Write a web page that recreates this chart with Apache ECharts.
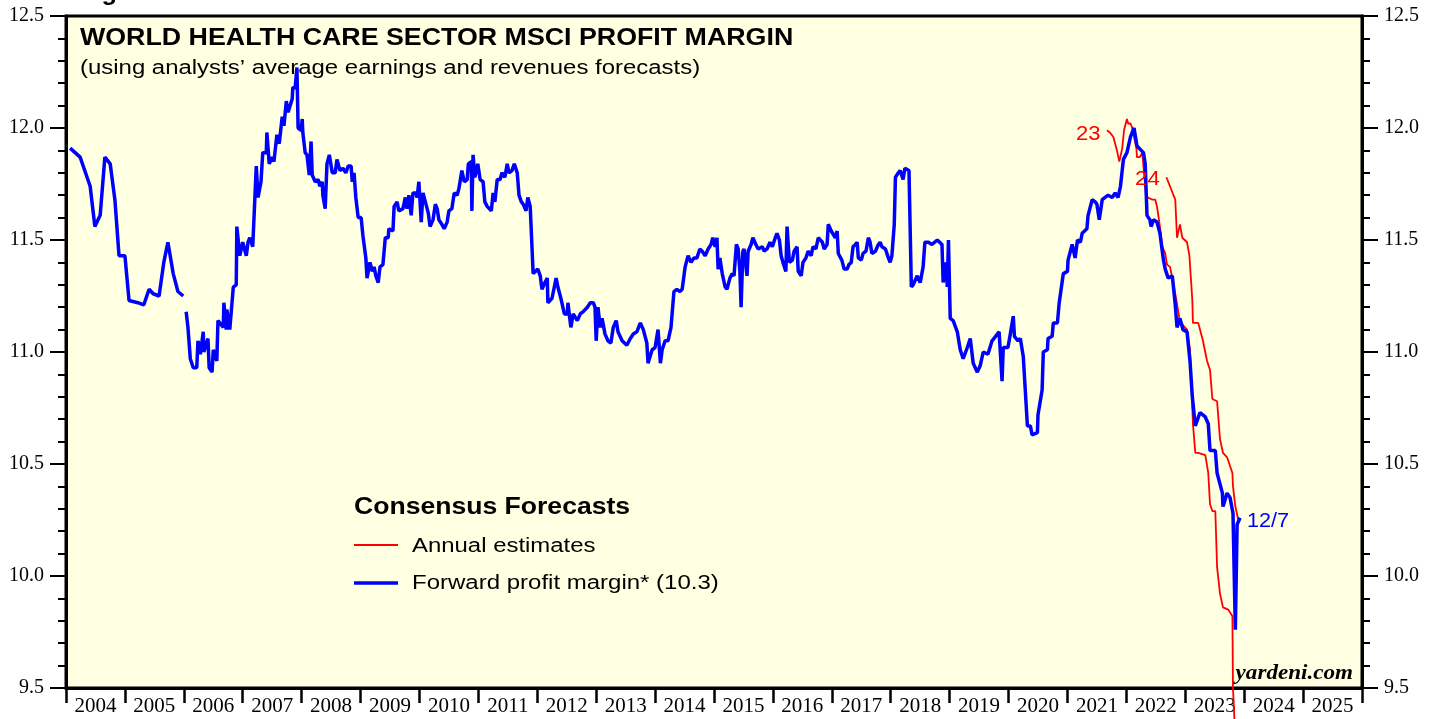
<!DOCTYPE html>
<html>
<head>
<meta charset="utf-8">
<script src="https://cdn.jsdelivr.net/npm/echarts@6/dist/echarts.min.js"></script>
<style>
html,body{margin:0;padding:0;background:#fff;}
#chart{width:1439px;height:719px;}
</style>
</head>
<body>
<div id="chart"></div>
<script>
// ---- DATA ----
const yearLabels = ['2004','2005','2006','2007','2008','2009','2010','2011','2012','2013','2014','2015','2016','2017','2018','2019','2020','2021','2022','2023','2024','2025'];
const yTicks = [9.5, 10.0, 10.5, 11.0, 11.5, 12.0, 12.5];

// Forward profit margin, 2004-2005 segment (decimal year, %)
const fwdMarginEarly = [
[2004.07,11.91],[2004.24,11.87],[2004.41,11.74],[2004.49,11.56],[2004.58,11.61],[2004.66,11.87],[2004.75,11.84],
[2004.83,11.68],[2004.90,11.43],[2005.00,11.43],[2005.07,11.23],[2005.22,11.22],[2005.32,11.21],[2005.41,11.28],
[2005.48,11.26],[2005.58,11.25],[2005.66,11.40],[2005.73,11.49],[2005.82,11.35],[2005.90,11.27],[2005.99,11.25]
];
// Forward profit margin, 2006 onward (weekly)
const fwdMargin = [
[2006.04,11.18],[2006.07,11.11],[2006.11,10.97],[2006.16,10.93],[2006.22,10.93],[2006.24,11.05],[2006.28,10.99],
[2006.33,11.09],[2006.34,11.00],[2006.41,11.06],[2006.43,10.93],[2006.48,10.91],[2006.50,11.01],[2006.56,10.96],
[2006.58,11.14],[2006.67,11.11],[2006.68,11.22],[2006.72,11.10],[2006.73,11.19],[2006.78,11.10],[2006.84,11.29],
[2006.89,11.30],[2006.90,11.56],[2006.95,11.43],[2007.00,11.49],[2007.06,11.43],[2007.09,11.49],[2007.12,11.51],
[2007.17,11.47],[2007.23,11.83],[2007.26,11.69],[2007.31,11.76],[2007.34,11.89],[2007.40,11.89],[2007.41,11.98],
[2007.45,11.84],[2007.50,11.87],[2007.53,11.85],[2007.58,11.97],[2007.62,11.93],[2007.67,12.05],[2007.70,12.01],
[2007.74,12.12],[2007.77,12.07],[2007.84,12.13],[2007.85,12.18],[2007.89,12.18],[2007.92,12.27],[2007.94,12.00],
[2007.99,11.99],[2008.01,12.04],[2008.02,11.98],[2008.06,11.89],[2008.09,11.88],[2008.13,11.79],[2008.16,11.94],
[2008.18,11.79],[2008.23,11.76],[2008.28,11.77],[2008.31,11.74],[2008.35,11.76],[2008.36,11.70],[2008.40,11.64],
[2008.43,11.84],[2008.47,11.88],[2008.52,11.80],[2008.57,11.80],[2008.60,11.86],[2008.65,11.81],[2008.70,11.82],
[2008.75,11.80],[2008.79,11.83],[2008.84,11.83],[2008.86,11.76],[2008.89,11.80],[2008.92,11.69],[2008.96,11.60],
[2009.01,11.60],[2009.04,11.52],[2009.09,11.42],[2009.11,11.33],[2009.16,11.40],[2009.20,11.36],[2009.23,11.38],
[2009.26,11.34],[2009.30,11.31],[2009.33,11.38],[2009.38,11.39],[2009.42,11.51],[2009.47,11.51],[2009.48,11.55],
[2009.55,11.54],[2009.57,11.65],[2009.62,11.67],[2009.65,11.63],[2009.72,11.64],[2009.76,11.69],[2009.79,11.64],
[2009.82,11.70],[2009.86,11.61],[2009.89,11.71],[2009.94,11.71],[2009.96,11.69],[2009.99,11.76],[2010.03,11.58],
[2010.06,11.71],[2010.10,11.67],[2010.15,11.62],[2010.18,11.56],[2010.23,11.59],[2010.27,11.66],[2010.30,11.64],
[2010.33,11.59],[2010.38,11.57],[2010.42,11.55],[2010.47,11.58],[2010.50,11.63],[2010.55,11.64],[2010.59,11.71],
[2010.64,11.70],[2010.67,11.73],[2010.72,11.81],[2010.76,11.76],[2010.81,11.77],[2010.83,11.84],[2010.88,11.85],
[2010.89,11.63],[2010.91,11.88],[2010.94,11.78],[2010.99,11.84],[2011.03,11.77],[2011.08,11.76],[2011.11,11.67],
[2011.15,11.65],[2011.22,11.63],[2011.25,11.71],[2011.28,11.67],[2011.32,11.77],[2011.37,11.77],[2011.40,11.80],
[2011.45,11.78],[2011.49,11.84],[2011.52,11.80],[2011.57,11.81],[2011.61,11.84],[2011.66,11.80],[2011.69,11.70],
[2011.73,11.67],[2011.76,11.66],[2011.81,11.63],[2011.84,11.69],[2011.88,11.65],[2011.91,11.65],[2011.93,11.35],
[2012.01,11.37],[2012.05,11.34],[2012.08,11.28],[2012.13,11.31],[2012.17,11.33],[2012.18,11.22],[2012.25,11.24],
[2012.32,11.33],[2012.35,11.29],[2012.40,11.24],[2012.46,11.17],[2012.51,11.17],[2012.52,11.22],[2012.57,11.11],
[2012.61,11.17],[2012.68,11.14],[2012.73,11.17],[2012.78,11.18],[2012.85,11.20],[2012.90,11.22],[2012.95,11.22],
[2012.98,11.20],[2013.00,11.05],[2013.03,11.20],[2013.07,11.11],[2013.10,11.15],[2013.15,11.08],[2013.20,11.05],
[2013.25,11.04],[2013.29,11.11],[2013.34,11.14],[2013.37,11.09],[2013.44,11.05],[2013.52,11.03],[2013.58,11.06],
[2013.63,11.08],[2013.69,11.09],[2013.75,11.13],[2013.80,11.10],[2013.86,11.04],[2013.88,10.95],[2013.95,11.01],
[2014.00,11.02],[2014.05,11.10],[2014.09,10.95],[2014.12,11.01],[2014.17,11.05],[2014.22,11.05],[2014.27,11.11],
[2014.32,11.27],[2014.37,11.28],[2014.42,11.27],[2014.46,11.28],[2014.51,11.38],[2014.56,11.43],[2014.61,11.40],
[2014.66,11.42],[2014.71,11.42],[2014.76,11.46],[2014.80,11.45],[2014.85,11.43],[2014.90,11.46],[2014.95,11.48],
[2014.98,11.51],[2015.02,11.47],[2015.05,11.51],[2015.07,11.37],[2015.10,11.42],[2015.14,11.35],[2015.19,11.29],
[2015.22,11.28],[2015.27,11.33],[2015.31,11.35],[2015.34,11.34],[2015.38,11.48],[2015.41,11.46],[2015.44,11.36],
[2015.46,11.20],[2015.49,11.45],[2015.51,11.46],[2015.56,11.34],[2015.58,11.45],[2015.63,11.48],[2015.66,11.51],
[2015.71,11.48],[2015.75,11.46],[2015.82,11.47],[2015.85,11.45],[2015.90,11.46],[2015.95,11.49],[2015.99,11.47],
[2016.04,11.51],[2016.07,11.53],[2016.11,11.50],[2016.14,11.43],[2016.17,11.40],[2016.22,11.36],[2016.24,11.56],
[2016.28,11.40],[2016.33,11.41],[2016.36,11.45],[2016.41,11.47],[2016.43,11.36],[2016.48,11.34],[2016.51,11.40],
[2016.56,11.42],[2016.60,11.45],[2016.65,11.43],[2016.68,11.47],[2016.73,11.46],[2016.77,11.51],[2016.84,11.49],
[2016.87,11.46],[2016.92,11.48],[2016.94,11.57],[2016.99,11.54],[2017.02,11.54],[2017.06,11.51],[2017.09,11.54],
[2017.11,11.44],[2017.17,11.41],[2017.21,11.37],[2017.26,11.37],[2017.29,11.39],[2017.33,11.40],[2017.36,11.47],
[2017.40,11.48],[2017.43,11.49],[2017.45,11.42],[2017.50,11.41],[2017.53,11.44],[2017.58,11.45],[2017.62,11.51],
[2017.65,11.49],[2017.68,11.44],[2017.74,11.45],[2017.79,11.48],[2017.82,11.49],[2017.85,11.47],[2017.91,11.46],
[2017.96,11.42],[2017.99,11.40],[2018.02,11.43],[2018.06,11.57],[2018.08,11.78],[2018.13,11.80],[2018.16,11.81],
[2018.21,11.77],[2018.24,11.82],[2018.31,11.81],[2018.35,11.29],[2018.38,11.30],[2018.45,11.34],[2018.50,11.31],
[2018.55,11.38],[2018.58,11.49],[2018.64,11.49],[2018.70,11.48],[2018.79,11.50],[2018.87,11.48],[2018.89,11.31],
[2018.94,11.40],[2018.96,11.29],[2018.98,11.50],[2019.01,11.15],[2019.06,11.14],[2019.13,11.09],[2019.18,11.01],
[2019.23,10.97],[2019.30,11.02],[2019.35,11.06],[2019.40,10.95],[2019.47,10.91],[2019.52,10.94],[2019.57,11.00],
[2019.65,10.99],[2019.72,11.05],[2019.81,11.08],[2019.84,11.09],[2019.89,10.87],[2019.91,11.02],[2019.99,11.02],
[2020.03,11.08],[2020.08,11.16],[2020.10,11.07],[2020.16,11.05],[2020.20,11.06],[2020.25,10.98],[2020.32,10.67],
[2020.37,10.67],[2020.40,10.63],[2020.49,10.64],[2020.50,10.72],[2020.57,10.83],[2020.59,11.00],[2020.66,11.01],
[2020.67,11.06],[2020.74,11.07],[2020.76,11.13],[2020.83,11.13],[2020.86,11.22],[2020.93,11.35],[2021.00,11.36],
[2021.01,11.41],[2021.08,11.48],[2021.13,11.42],[2021.17,11.50],[2021.22,11.49],[2021.25,11.53],[2021.33,11.55],
[2021.35,11.61],[2021.42,11.68],[2021.47,11.67],[2021.50,11.66],[2021.54,11.59],[2021.59,11.68],[2021.64,11.69],
[2021.69,11.70],[2021.76,11.69],[2021.81,11.71],[2021.86,11.69],[2021.90,11.74],[2021.95,11.86],[2022.01,11.89],
[2022.07,11.96],[2022.13,12.00],[2022.18,11.92],[2022.29,11.89],[2022.32,11.84],[2022.35,11.61],[2022.40,11.59],
[2022.42,11.56],[2022.46,11.59],[2022.52,11.58],[2022.57,11.53],[2022.63,11.41],[2022.66,11.37],[2022.71,11.33],
[2022.78,11.34],[2022.83,11.21],[2022.86,11.11],[2022.91,11.15],[2022.96,11.10],[2023.03,11.09],[2023.08,10.96],
[2023.12,10.80],[2023.17,10.67],[2023.25,10.73],[2023.34,10.71],[2023.39,10.68],[2023.42,10.56],[2023.51,10.56],
[2023.54,10.46],[2023.63,10.37],[2023.64,10.31],[2023.71,10.37],[2023.76,10.35],[2023.81,10.28],[2023.85,9.76],
[2023.88,10.23],[2023.93,10.26]
];
// Annual consensus estimates for 2023
const est2023 = [
[2021.67,11.99],[2021.72,11.98],[2021.78,11.96],[2021.84,11.90],[2021.88,11.85],[2021.93,11.91],[2021.96,11.99],
[2022.01,12.04],[2022.03,12.02],[2022.07,12.02],[2022.10,12.00],[2022.13,12.00],[2022.17,11.91],[2022.18,11.87],
[2022.23,11.87],[2022.27,11.89],[2022.34,11.68],[2022.37,11.69],[2022.44,11.68],[2022.49,11.68],[2022.52,11.65],
[2022.57,11.56],[2022.61,11.47],[2022.66,11.44],[2022.69,11.39],[2022.74,11.38],[2022.79,11.32],[2022.85,11.23],
[2022.90,11.15],[2022.96,11.12],[2023.03,11.10],[2023.08,11.01],[2023.13,10.68],[2023.17,10.55],[2023.22,10.55],
[2023.34,10.54],[2023.39,10.46],[2023.42,10.32],[2023.46,10.29],[2023.51,10.29],[2023.54,10.04],[2023.59,9.92],
[2023.64,9.86],[2023.73,9.85],[2023.80,9.82],[2023.81,9.50],[2023.85,9.27]
];
// Annual consensus estimates for 2024
const est2024 = [
[2022.68,11.78],[2022.74,11.74],[2022.83,11.68],[2022.86,11.51],[2022.91,11.57],[2022.95,11.51],[2023.03,11.49],
[2023.07,11.43],[2023.12,11.23],[2023.13,11.13],[2023.22,11.13],[2023.30,11.05],[2023.37,10.96],[2023.42,10.92],
[2023.46,10.79],[2023.54,10.78],[2023.59,10.61],[2023.64,10.55],[2023.71,10.53],[2023.80,10.46],[2023.81,10.40],
[2023.85,10.31],[2023.88,10.31],[2023.90,10.25],[2023.93,10.25]
];

// ---- CHART ----
const chart = echarts.init(document.getElementById('chart'));
const serif = '"Liberation Serif", "DejaVu Serif", serif';
const sans = '"Liberation Sans", Arial, sans-serif';
const G = {left:66, top:16, right:1362, bottom:688};

function yAxisDef(pos){
  return {
    type:'value', position:pos, min:9.5, max:12.5, interval:0.5,
    axisLine:{show:true, lineStyle:{color:'#000', width:3}},
    axisTick:{show:true, inside:false, length:16, lineStyle:{color:'#000', width:2}},
    minorTick:{show:true, splitNumber:5, length:8, lineStyle:{color:'#000', width:2}},
    splitLine:{show:false},
    axisLabel:{show:true, margin:22, color:'#000', fontFamily:serif, fontSize:20,
      formatter:function(v){ return yTicks.indexOf(+v.toFixed(1))>=0 ? v.toFixed(1) : ''; }}
  };
}
function txt(x, y, text, font, fill, sx, align){
  return {type:'text', x:x, y:y, scaleX:sx||1, z:10,
    style:{text:text, font:font, fill:fill, align:align||'left', verticalAlign:'top'}};
}

const option = {
  animation:false,
  backgroundColor:'#ffffff',
  grid:{left:G.left, top:G.top, width:G.right-G.left, height:G.bottom-G.top,
        show:true, backgroundColor:'#FFFFE2', borderColor:'#000', borderWidth:3},
  xAxis:[
    {type:'category', data:yearLabels, boundaryGap:true, position:'bottom',
     axisLine:{show:true, lineStyle:{color:'#000', width:3}},
     axisTick:{show:true, alignWithLabel:false, interval:0, length:15, lineStyle:{color:'#000', width:2.5}},
     axisLabel:{show:true, interval:0, margin:8, color:'#000', fontFamily:serif, fontSize:21},
     splitLine:{show:false}},
    {type:'value', min:2004, max:2026, show:false, position:'bottom'}
  ],
  yAxis:[yAxisDef('left'), yAxisDef('right')],
  series:[
    {type:'line', xAxisIndex:1, yAxisIndex:0, data:est2023, showSymbol:false, clip:false,
     lineStyle:{color:'#FF0000', width:1.8}, z:3},
    {type:'line', xAxisIndex:1, yAxisIndex:0, data:est2024, showSymbol:false,
     lineStyle:{color:'#FF0000', width:1.8}, z:3},
    {type:'line', xAxisIndex:1, yAxisIndex:0, data:fwdMarginEarly, showSymbol:false,
     lineStyle:{color:'#0000FF', width:3.5}, z:4},
    {type:'line', xAxisIndex:1, yAxisIndex:0, data:fwdMargin, showSymbol:false,
     lineStyle:{color:'#0000FF', width:3.5}, z:4}
  ],
  graphic:[
    txt(79, -18, 'Figure 3.', 'bold 23px '+sans, '#000', 1.1),
    txt(80, 26, 'WORLD HEALTH CARE SECTOR MSCI PROFIT MARGIN', 'bold 24px '+sans, '#000', 1.116),
    txt(80, 58, '(using analysts\u2019 average earnings and revenues forecasts)', '20px '+sans, '#000', 1.197),
    txt(354, 496, 'Consensus Forecasts', 'bold 23px '+sans, '#000', 1.155),
    {type:'line', z:10, shape:{x1:354, y1:545, x2:398, y2:545}, style:{stroke:'#FF0000', lineWidth:1.8}},
    txt(412, 536, 'Annual estimates', '20px '+sans, '#000', 1.196),
    {type:'line', z:10, shape:{x1:354, y1:583, x2:398, y2:583}, style:{stroke:'#0000FF', lineWidth:3.5}},
    txt(412, 573, 'Forward profit margin* (10.3)', '20px '+sans, '#000', 1.2),
    txt(1076, 124, '23', '20px '+sans, '#FF0000', 1.1),
    txt(1135, 169, '24', '20px '+sans, '#FF0000', 1.12),
    txt(1247, 511, '12/7', '20px '+sans, '#0000FF', 1.08),
    txt(1353, 663, 'yardeni.com', 'italic bold 21px '+serif, '#000', 1.1, 'right')
  ]
};
chart.setOption(option);
</script>
</body>
</html>
